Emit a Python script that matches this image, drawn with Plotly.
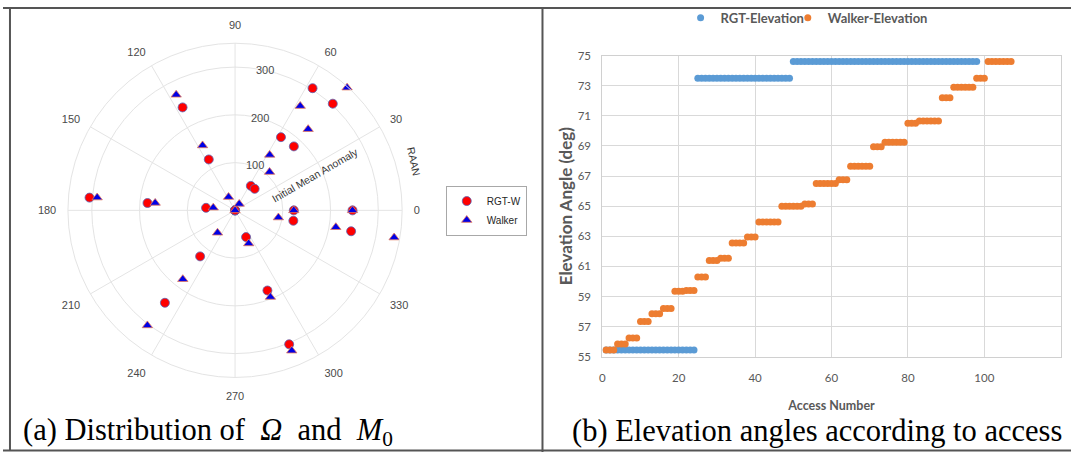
import plotly.graph_objects as go

W, H = 1071, 458
def X(px):
    return px / W
def Y(py):
    return 1 - py / H

# ---------------- (a) polar: RAAN (theta, deg) vs initial mean anomaly (r) ----------------
rgtw_raan = [57.6, 47.5, 57.9, 47.4, 57.2, 47.7,
             117.0, 117.3, 117.0,
             175.0, 175.2, 175.0,
             0.0, 0.0, 0.0,
             349.9, 349.8, 349.9,
             292.4, 292.0, 292.0,
             232.8, 232.8, 232.8]
rgtw_m0 = [303, 303, 181, 182, 61, 61,
           242, 120, 0,
           306, 184, 61,
           123, 246, 0,
           124, 247, 0,
           60.5, 181, 302.5,
           121, 243, 0]

walker_raan = [47.6, 58.0, 48.0, 58.0, 48.0, 57.0,
               117.0, 116.6, 116.0,
               174.7, 174.7, 173.0,
               0.0, 0.0, 0.0,
               350.6, 350.5, 350.3,
               292.4, 292.2, 292.0,
               232.0, 232.8, 232.7]
walker_m0 = [348, 257.6, 228.8, 137, 108, 16,
             271.6, 152, 31,
             290, 168, 46,
             0, 123, 246,
             92, 214, 338,
             75, 196, 317,
             59.6, 181, 303]

angle_ticks = [0, 30, 60, 90, 120, 150, 180, 210, 240, 270, 300, 330]
angle_labels = ["0", "30", "60", "90", "120", "150", "180", "210", "240", "270", "300", "330"]
radial_ticks = [100, 200, 300]

# ---------------- (b) elevation angle per access ----------------
rgt_access = list(range(1, 99))
rgt_elev = [
    55.45, 55.45, 55.45, 55.45, 55.45, 55.45, 55.45, 55.45, 55.45, 55.45, 55.45, 55.45,
    55.45, 55.45, 55.45, 55.45, 55.45, 55.45, 55.45, 55.45, 55.45, 55.45, 55.45, 55.45,
    73.5, 73.5, 73.5, 73.5, 73.5, 73.5, 73.5, 73.5, 73.5, 73.5, 73.5, 73.5, 73.5,
    73.5, 73.5, 73.5, 73.5, 73.5, 73.5, 73.5, 73.5, 73.5, 73.5, 73.5, 73.5,
    74.6, 74.6, 74.6, 74.6, 74.6, 74.6, 74.6, 74.6, 74.6, 74.6, 74.6, 74.6, 74.6, 74.6,
    74.6, 74.6, 74.6, 74.6, 74.6, 74.6, 74.6, 74.6, 74.6, 74.6, 74.6, 74.6, 74.6, 74.6,
    74.6, 74.6, 74.6, 74.6, 74.6, 74.6, 74.6, 74.6, 74.6, 74.6, 74.6, 74.6, 74.6, 74.6,
    74.6, 74.6, 74.6, 74.6, 74.6, 74.6, 74.6,
]
walker_access = list(range(1, 108))
walker_elev = [
    55.45, 55.45, 55.45, 55.85, 55.85, 55.85, 56.25, 56.25, 56.25,
    57.35, 57.35, 57.35, 57.85, 57.85, 57.85, 58.2, 58.2, 58.2,
    59.35, 59.35, 59.35, 59.4, 59.4, 59.4, 60.3, 60.3, 60.3,
    61.4, 61.4, 61.4, 61.55, 61.55, 61.55, 62.55, 62.55, 62.55, 62.55,
    62.95, 62.95, 62.95, 63.95, 63.95, 63.95, 63.95, 63.95, 63.95,
    65.0, 65.0, 65.0, 65.0, 65.0, 65.0, 65.15, 65.15, 65.15,
    66.5, 66.5, 66.5, 66.5, 66.5, 66.5, 66.75, 66.75, 66.75,
    67.65, 67.65, 67.65, 67.65, 67.65, 67.65, 68.95, 68.95, 68.95,
    69.25, 69.25, 69.25, 69.25, 69.25, 69.25, 70.5, 70.5, 70.5,
    70.65, 70.65, 70.65, 70.65, 70.65, 70.65, 72.2, 72.2, 72.2,
    72.9, 72.9, 72.9, 72.9, 72.9, 72.9, 73.5, 73.5, 73.5,
    74.6, 74.6, 74.6, 74.6, 74.6, 74.6, 74.6,
]

HUM = "Lato, Open Sans, sans-serif"
SANS = "Liberation Sans, Arial, sans-serif"
SERIF = "Liberation Serif, Times New Roman, serif"
GRAY = "#595959"

fig = go.Figure()
fig.add_trace(go.Scatterpolar(
    r=rgtw_m0, theta=rgtw_raan, mode="markers", name="RGT-W",
    marker=dict(symbol="circle", size=9, color="#ff0000",
                line=dict(color="#5a64b4", width=0.8)),
    subplot="polar", legend="legend"))
fig.add_trace(go.Scatterpolar(
    r=walker_m0, theta=walker_raan, mode="markers", name="Walker",
    marker=dict(symbol="triangle-up", size=9, color="#0000e6",
                line=dict(color="#e87a5a", width=0.8)),
    subplot="polar", legend="legend"))
fig.add_trace(go.Scatter(
    x=rgt_access, y=rgt_elev, mode="markers", name="RGT-Elevation",
    marker=dict(color="#5B9BD5", size=7), legend="legend2"))
fig.add_trace(go.Scatter(
    x=walker_access, y=walker_elev, mode="markers", name="Walker-Elevation",
    marker=dict(color="#ED7D31", size=7), legend="legend3"))

cx, cy, rad = 232.7, 209.3, 172
leg_font = dict(size=13, color=GRAY, family=HUM, weight="bold")
fig.update_layout(
    width=W, height=H, margin=dict(l=0, r=0, t=0, b=0),
    paper_bgcolor="white", plot_bgcolor="white",
    polar=dict(
        domain=dict(x=[X(cx - rad), X(cx + rad)], y=[Y(cy + rad), Y(cy - rad)]),
        bgcolor="white",
        angularaxis=dict(rotation=0, direction="counterclockwise",
                         tickmode="array", tickvals=angle_ticks, ticktext=angle_labels,
                         showline=True, linecolor="#e4e4e4", linewidth=1,
                         gridcolor="#e4e4e4", gridwidth=1,
                         ticks="outside", ticklen=9, tickcolor="rgba(0,0,0,0)",
                         tickfont=dict(size=11, color="#4a4a4a", family=SANS)),
        radialaxis=dict(range=[0, 350], tickmode="array", tickvals=radial_ticks,
                        angle=84, tickangle=84, showline=False, ticks="",
                        gridcolor="#e4e4e4", gridwidth=1,
                        tickfont=dict(size=11, color="#4a4a4a", family=SANS)),
    ),
    legend=dict(x=X(444), y=Y(209.5), xanchor="left", yanchor="middle",
                bgcolor="white", bordercolor="#a8a8a8", borderwidth=1,
                font=dict(size=10, color="#262626", family=SANS),
                tracegroupgap=0, itemwidth=30),
    legend2=dict(orientation="h", x=X(679.5), y=Y(11), xanchor="left", yanchor="middle",
                 bgcolor="rgba(0,0,0,0)", font=leg_font),
    legend3=dict(orientation="h", x=X(787), y=Y(11), xanchor="left", yanchor="middle",
                 bgcolor="rgba(0,0,0,0)", font=leg_font),
    xaxis=dict(domain=[X(601), X(1060.7)], range=[0, 120], tick0=0, dtick=20,
               showgrid=True, gridcolor="#d9d9d9", zeroline=False,
               showline=True, linecolor="#d0d0d0", mirror=True, ticks="",
               ticklabelstandoff=10,
               tickfont=dict(size=11.5, color=GRAY, family=HUM),
               title=dict(text="Access Number", standoff=18,
                          font=dict(size=12.5, color=GRAY, family=HUM, weight="bold"))),
    yaxis=dict(domain=[Y(360), Y(50)], range=[55, 75], tick0=55, dtick=2,
               showgrid=True, gridcolor="#d9d9d9", zeroline=False,
               showline=True, linecolor="#d0d0d0", mirror=True, ticks="",
               ticklabelstandoff=8,
               tickfont=dict(size=11.5, color=GRAY, family=HUM),
               title=dict(text="Elevation Angle (deg)", standoff=0,
                          font=dict(size=17, color=GRAY, family=HUM, weight="bold"))),
    showlegend=True,
)

fig.add_annotation(text="Initial Mean Anomaly", x=X(312.5), y=Y(172.5), xref="paper", yref="paper",
                   xanchor="center", yanchor="middle",
                   showarrow=False, textangle=-30, font=dict(size=10.5, color="#333333", family=SANS))
fig.add_annotation(text="RAAN", x=X(411.7), y=Y(159), xref="paper", yref="paper",
                   xanchor="center", yanchor="middle",
                   showarrow=False, textangle=78, font=dict(size=10.5, color="#333333", family=SANS))
fig.add_annotation(text="(a) Distribution of\u00a0 <i>\u03a9</i> \u00a0and\u00a0 <i>M</i><sub>0</sub>",
                   x=X(18), y=Y(437), xref="paper", yref="paper", xanchor="left", yanchor="middle",
                   showarrow=False, font=dict(size=30.5, color="black", family=SERIF))
fig.add_annotation(text="(b) Elevation angles according to access",
                   x=X(569), y=Y(436), xref="paper", yref="paper", xanchor="left", yanchor="middle",
                   showarrow=False, font=dict(size=30.5, color="black", family=SERIF))

line = dict(color="#555555", width=2)
fig.add_shape(type="line", xref="paper", yref="paper", x0=0, x1=1, y0=Y(1), y1=Y(1), line=line)
fig.add_shape(type="line", xref="paper", yref="paper", x0=X(7), x1=X(7), y0=Y(0), y1=Y(457), line=line)
fig.add_shape(type="line", xref="paper", yref="paper", x0=0, x1=1, y0=Y(456.5), y1=Y(456.5), line=line)
fig.add_shape(type="line", xref="paper", yref="paper", x0=X(541), x1=X(541), y0=Y(0), y1=Y(458), line=line)

fig.write_html("out.html")
